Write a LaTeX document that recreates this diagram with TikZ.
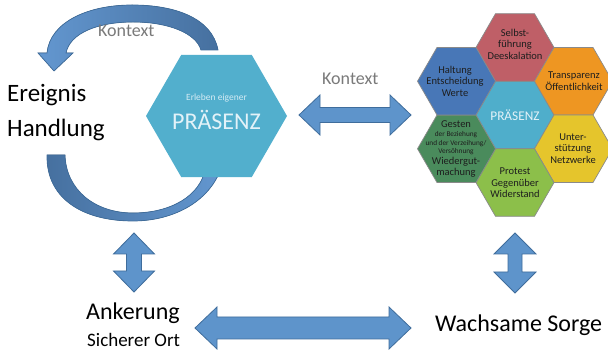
\documentclass[tikz,border=0pt]{standalone}
\usepackage{fontspec}
\setmainfont{Carlito}
\usetikzlibrary{shapes.geometric}
\definecolor{arrowfill}{HTML}{5E94CB}
\definecolor{arrowline}{HTML}{3F6D9C}
\definecolor{arcdark}{HTML}{46709F}
\definecolor{arclight}{HTML}{6397D0}
\definecolor{bighex}{HTML}{52AFCD}
\definecolor{hexline}{HTML}{8A8A8A}
\definecolor{cRed}{HTML}{BF5F67}
\definecolor{cOrange}{HTML}{EE9622}
\definecolor{cYellow}{HTML}{E5C52C}
\definecolor{cLGreen}{HTML}{8CBF4A}
\definecolor{cDGreen}{HTML}{4A8B5C}
\definecolor{cBlue}{HTML}{4877B7}
\definecolor{cCenter}{HTML}{4FAECB}
\definecolor{ktx}{HTML}{7A7A7A}
\definecolor{hextxt}{HTML}{1E1E1E}
\definecolor{lighttxt}{HTML}{E3F2F8}
\newcommand\dblH[6]{% left tip x, right tip x, y, shaft half, head half, head length
  \filldraw[fill=arrowfill,draw=arrowline,line width=0.8pt,line join=miter]
    (#1,#3) -- ({#1+#6},{#3-#5}) -- ({#1+#6},{#3-#4}) -- ({#2-#6},{#3-#4}) -- ({#2-#6},{#3-#5})
    -- (#2,#3) -- ({#2-#6},{#3+#5}) -- ({#2-#6},{#3+#4}) -- ({#1+#6},{#3+#4}) -- ({#1+#6},{#3+#5}) -- cycle;}
\newcommand\dblV[6]{% top tip y, bottom tip y, x, shaft half, head half, head length
  \filldraw[fill=arrowfill,draw=arrowline,line width=0.8pt,line join=miter]
    (#3,#1) -- ({#3+#5},{#1+#6}) -- ({#3+#4},{#1+#6}) -- ({#3+#4},{#2-#6}) -- ({#3+#5},{#2-#6})
    -- (#3,#2) -- ({#3-#5},{#2-#6}) -- ({#3-#4},{#2-#6}) -- ({#3-#4},{#1+#6}) -- ({#3-#5},{#1+#6}) -- cycle;}
\begin{document}
\begin{tikzpicture}[x=1pt,y=-1pt,
  hexcell/.style={regular polygon, regular polygon sides=6, minimum size=78pt, inner sep=0pt, draw=hexline, line width=0.7pt},
  hextext/.style={align=center, text=hextxt, font=\fontsize{10.5}{11.5}\selectfont, inner sep=0pt},
  gsmall/.style={anchor=mid, text=hextxt, font=\fontsize{7.3}{8}\selectfont, inner sep=0pt},
  gbig/.style={anchor=mid, text=hextxt, font=\fontsize{10.5}{11.5}\selectfont, inner sep=0pt},
  bigtext/.style={anchor=base west, inner sep=0pt, text=black},
  ktxt/.style={anchor=base west, inner sep=0pt, text=ktx, font=\fontsize{18}{20}\selectfont}]
\useasboundingbox (0,0) rectangle (608,352);
\fill[white] (0,0) rectangle (608,352);

% upper curved arrow
\filldraw[left color=arclight, right color=arcdark, draw=arrowline, line width=0.7pt]
  (218,50) .. controls (212,18) and (175,5) .. (132,5)
  .. controls (88,5) and (50,22) .. (47,53)
  -- (38,53) -- (54,71) -- (73,53) -- (66,53)
  .. controls (70,33) and (98,22) .. (133,22)
  .. controls (168,22) and (196,33) .. (201,50) -- cycle;
% lower curved band
\filldraw[left color=arcdark, right color=arclight, draw=arrowline, line width=0.7pt]
  (47,155) .. controls (46,198) and (82,221) .. (133,221)
  .. controls (175,221) and (212,200) .. (222,165)
  -- (205,170) .. controls (200,195) and (172,213) .. (133,213)
  .. controls (95,213) and (66,190) .. (65,155) -- cycle;

% big hexagon
\node[regular polygon, regular polygon sides=6, minimum size=141pt, inner sep=0pt, fill=bighex] (big) at (216.5,116) {};
\node[inner sep=0pt, text=lighttxt!90!bighex, font=\fontsize{9.5}{10}\selectfont, anchor=base] (erl) at (216.5,100.7) {Erleben eigener};
\node[inner sep=0pt, text=lighttxt, font=\fontsize{24}{26}\selectfont, anchor=base] (praes) at (216.5,130) {PRÄSENZ};

% texts left
\node[bigtext, font=\fontsize{25}{28}\selectfont] (ereignis) at (7,102) {Ereignis};
\node[bigtext, font=\fontsize{25}{28}\selectfont] (handlung) at (7,137) {Handlung};
\node[ktxt] (kontext1) at (98,37) {Kontext};
\node[ktxt] (kontext2) at (322,85) {Kontext};
\node[bigtext, font=\fontsize{24}{26}\selectfont] (ankerung) at (86,320) {Ankerung};
\node[bigtext, font=\fontsize{19}{21}\selectfont] (sicher) at (87,347) {Sicherer Ort};
\node[bigtext, font=\fontsize{24}{26}\selectfont] (sorge) at (435,332) {Wachsame Sorge};

% hexagon cluster
\node[hexcell, fill=cCenter] (hC) at (515,115) {};
\node[hexcell, fill=cRed] (hT) at (515,47.45) {};
\node[hexcell, fill=cOrange] (hUR) at (573.5,81.225) {};
\node[hexcell, fill=cYellow] (hLR) at (573.5,148.775) {};
\node[hexcell, fill=cLGreen] (hB) at (515,182.55) {};
\node[hexcell, fill=cDGreen] (hLL) at (456.5,148.775) {};
\node[hexcell, fill=cBlue] (hUL) at (456.5,81.225) {};

\node[inner sep=0pt, text=lighttxt, font=\fontsize{13.3}{15}\selectfont] (tC) at (515,115) {PRÄSENZ};
\node[hextext] (tT) at (515,44) {Selbst-\\führung\\Deeskalation};
\node[hextext] (tUR) at (574,81) {Transparenz\\Öffentlichkeit};
\node[hextext] (tUL) at (455,81) {Haltung\\Entscheidung\\Werte};
\node[hextext] (tLR) at (573,148.5) {Unter-\\stützung\\Netzwerke};
\node[hextext] (tB) at (515,183) {Protest\\Gegenüber\\Widerstand};
\node[gbig] (g1) at (456,125) {Gesten};
\node[gsmall] (g2) at (456,134) {der Beziehung};
\node[gsmall] (g3) at (456,142.7) {und der Verzeihung/};
\node[gsmall] (g4) at (456,151) {Versöhnung};
\node[gbig] (g5) at (456,162) {Wiedergut-};
\node[gbig] (g6) at (456,173) {machung};

% block arrows
\dblH{299}{411}{115}{7.5}{20}{21}
\dblH{195}{411}{328}{11}{21}{22}
\dblV{233}{292}{134}{7.5}{20.5}{21}
\dblV{233}{293}{515}{7}{21}{21}
\end{tikzpicture}
\end{document}
